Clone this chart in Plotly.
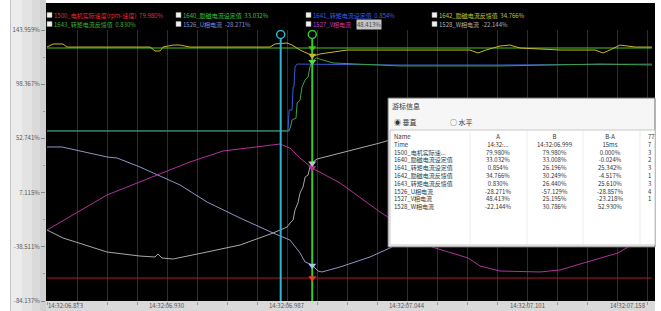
import numpy as np
import plotly.graph_objects as go

# ---------------- data (time in ms after 14:32:06.000, value in axis %) ----------------
t_1500 = [873.0, 1160.4]
v_1500 = [-64.8, -64.8]

t_1640 = [873.0, 1160.4]
v_1640 = [128.8, 128.8]

t_1642 = [873.0, 875.9, 880.6, 882.5, 922.0, 924.3, 926.7, 928.1, 932.9, 936.2, 940.9, 978.9, 981.3,
          987.0, 989.4, 993.2, 999.4, 1002.7, 1015.5, 1040.7, 1073.9, 1077.7, 1081.5, 1088.2, 1092.9,
          1097.7, 1116.7, 1133.3, 1137.1, 1140.4, 1145.2, 1152.3, 1160.4]
v_1642 = [129.6, 132.2, 132.2, 129.6, 129.6, 126.3, 126.3, 129.6, 131.3, 131.3, 129.6, 129.6, 132.2,
          133.0, 131.3, 127.1, 122.1, 123.8, 127.1, 127.1, 127.1, 124.6, 127.1, 130.5, 131.3,
          128.8, 127.1, 127.1, 124.6, 127.1, 131.3, 129.6, 129.6]

t_1641 = [873.0, 987.0, 987.5, 988.0, 989.4, 989.9, 990.3, 990.8, 991.8, 1040.7, 1088.2, 1160.4]
v_1641 = [59.0, 59.0, 59.0, 76.6, 76.6, 96.0, 96.0, 112.8, 115.3, 114.5, 114.5, 115.3]

t_1643 = [873.0, 988.0, 988.9, 989.4, 991.3, 991.8, 993.2, 994.1, 995.6, 997.0, 997.9, 998.9, 1000.8,
          1008.9, 1040.7, 1088.2, 1135.7, 1160.4]
v_1643 = [59.0, 59.0, 64.0, 68.2, 69.9, 82.5, 85.0, 96.0, 101.9, 104.4, 112.8, 117.0, 120.4,
          116.2, 113.7, 113.7, 115.3, 114.5]

t_u = [873.0, 880.1, 901.5, 906.3, 917.2, 925.3, 936.2, 949.0, 964.7, 980.4, 988.4, 993.2, 995.6, 997.9,
       999.4, 1001.7, 1003.6, 1012.2, 1026.4, 1035.9, 1050.2, 1069.2, 1088.2, 1107.2, 1126.2, 1140.4,
       1152.3, 1160.4]
v_u = [45.5, 45.5, 37.1, 36.2, 28.6, 21.9, 13.5, -0.8, -14.3, -26.9, -32.8, -43.7, -51.3, -53.0,
       -54.7, -58.9, -59.7, -55.5, -47.1, -39.5, -26.1, -9.2, 9.3, 27.8, 41.3, 44.6, 41.3, 36.2]

t_w = [873.0, 880.6, 901.5, 917.2, 924.3, 925.7, 927.6, 932.9, 949.0, 964.7, 980.4, 987.0, 988.9, 989.9,
       990.8, 992.2, 993.2, 994.6, 995.6, 997.0, 997.9, 999.4, 1001.3, 1014.6, 1031.2, 1035.9, 1054.9,
       1073.9, 1097.7, 1121.5, 1145.2, 1160.4]
v_w = [-24.4, -31.1, -42.9, -46.3, -47.1, -44.6, -47.9, -48.8, -42.9, -37.0, -26.9, -21.9, -17.6, -16.0,
       -7.5, -1.6, 6.8, 11.8, 20.2, 21.9, 28.6, 32.9, 35.4, 41.3, 48.9, 51.4, 58.1,
       51.4, 30.3, 5.1, -20.2, -32.8]

t_v = [873.0, 885.4, 901.5, 925.3, 940.9, 956.6, 972.8, 983.7, 988.4, 993.2, 998.9, 1012.2, 1031.2,
       1040.7, 1055.9, 1073.0, 1078.7, 1088.2, 1107.2, 1116.7, 1126.2, 1135.7, 1144.2, 1151.4, 1160.4]
v_v = [-24.4, -11.7, 5.1, 21.9, 32.9, 42.1, 45.5, 48.0, 44.6, 36.2, 27.8, 15.2, -9.2,
       -20.2, -38.7, -47.9, -54.7, -58.9, -59.7, -58.0, -53.0, -47.9, -43.7, -36.2, -26.1]

Y_TICK_VALS = [143.959, 98.367, 52.741, 7.115, -38.511, -84.137]
Y_TICK_TEXT = ["143.959%", "98.367%", "52.741%", "7.115%", "-38.511%", "-84.137%"]
X_LABEL_MS = [873, 930, 987, 1044, 1101, 1158]
X_LABEL_TEXT = ["14:32:06.873", "14:32:06.930", "14:32:06.987", "14:32:07.044", "14:32:07.101", "14:32:07.158"]
CURSOR_A = 984.0
CURSOR_B = 999.0

LEG_NAMES = ["1500_电机实际速度(rpm-速度)", "1640_励磁电流设定值", "1641_转矩电流设定值", "1642_励磁电流反馈值",
             "1643_转矩电流反馈值", "1526_U相电流", "1527_V相电流", "1528_W相电流"]
LEG_VALUES = ["79.980%", "33.032%", "0.854%", "34.766%", "0.830%", "-28.271%", "48.413%", "-22.144%"]

TBL_NAMES = ["Time", "1500_电机实际速...", "1640_励磁电流设定值", "1641_转矩电流设定值", "1642_励磁电流反馈值",
             "1643_转矩电流反馈值", "1526_U相电流", "1527_V相电流", "1528_W相电流"]
TBL_A = ["14:32:...", "79.980%", "33.032%", "0.854%", "34.766%", "0.830%", "-28.271%", "48.413%", "-22.144%"]
TBL_B = ["14:32:06.999", "79.980%", "33.008%", "26.196%", "30.249%", "26.440%", "-57.129%", "25.195%", "30.786%"]
TBL_BA = ["15ms", "0.000%", "-0.024%", "25.342%", "-4.517%", "25.610%", "-28.857%", "-23.218%", "52.930%"]
TBL_E = ["77", "7", "3", "2", "3", "1", "3", "4", "1"]

# ---------------- styles ----------------
C_1500 = "#b2182b"
C_1640 = "#4cc21f"
C_1641 = "#3a5bd6"
C_1642 = "#c9b92a"
C_1643 = "#3f9f3f"
C_U = "#8e95c6"
C_V = "#b0329c"
C_W = "#a8a8a8"
C_A = "#2fb5d2"
C_B = "#36c936"
LEG_COLORS = ["#e0303c", "#3fc63f", "#3f5fe0", "#d2c232", "#3fb03f", "#8590c8", "#c838c0", "#b0b0b0"]
FONT = "Noto Sans CJK SC, Noto Sans, sans-serif"

W, H = 661, 311
PL, PR, PT, PB = 46, 652, 30, 301
Y_MIN, Y_MAX = Y_TICK_VALS[-1], Y_TICK_VALS[0]
MS_PER_PX = 57.0 / 120.0
X_MIN = X_LABEL_MS[0] - 1 * MS_PER_PX
X_MAX = X_MIN + (PR - PL) * MS_PER_PX


def px(x):
    return (x - PL) / (PR - PL)


def py(y):
    return (PB - y) / (PB - PT)


fig = go.Figure()

series = [
    (t_1500, v_1500, C_1500),
    (t_1641, v_1641, C_1641),
    (t_1643, v_1643, C_1643),
    (t_1640, v_1640, C_1640),
    (t_1642, v_1642, C_1642),
    (t_u, v_u, C_U),
    (t_w, v_w, C_W),
    (t_v, v_v, C_V),
]
for t, v, c in series:
    fig.add_trace(go.Scatter(x=t, y=v, mode="lines", line=dict(color=c, width=1),
                             hoverinfo="skip", showlegend=False))

# cursors
span = Y_MAX - Y_MIN
top_line = Y_MAX - 8.0 / (PB - PT) * span
head = Y_MAX - 4.5 / (PB - PT) * span
for cx, cc in [(CURSOR_A, C_A), (CURSOR_B, C_B)]:
    fig.add_trace(go.Scatter(x=[cx, cx], y=[Y_MIN, top_line], mode="lines",
                             line=dict(color=cc, width=2), hoverinfo="skip", showlegend=False))
    fig.add_trace(go.Scatter(x=[cx], y=[head], mode="markers",
                             marker=dict(symbol="circle-open", size=8, color=cc, line=dict(width=1.5)),
                             hoverinfo="skip", showlegend=False))

# value markers at cursor B
for t, v, c in [(t_1640, v_1640, C_1640), (t_1642, v_1642, C_1642), (t_1643, v_1643, "#55d455"),
                (t_v, v_v, C_V), (t_w, v_w, "#b8c8b8"), (t_u, v_u, "#a8c4e8"), (t_1500, v_1500, "#e04020")]:
    yb = float(np.interp(CURSOR_B, t, v))
    fig.add_trace(go.Scatter(x=[CURSOR_B], y=[yb], mode="markers",
                             marker=dict(symbol="triangle-down", size=7, color=c),
                             hoverinfo="skip", showlegend=False))

shapes = []
# background panels
shapes.append(dict(type="rect", xref="paper", yref="paper", x0=px(45), x1=px(655), y0=py(301), y1=py(3),
                   fillcolor="black", line=dict(width=0), layer="below"))
for a, b, col in [(10, 11, "#c4c4c4"), (11, 22, "#ececec"), (22, 32, "#e3e3e3"), (32, 40, "#dadada"),
                  (40, 46, "#d0d0d0")]:
    shapes.append(dict(type="rect", xref="paper", yref="paper", x0=px(a), x1=px(b), y0=py(311), y1=py(0),
                       fillcolor=col, line=dict(width=0), layer="below"))
shapes.append(dict(type="rect", xref="paper", yref="paper", x0=px(46), x1=px(655), y0=py(311), y1=py(301),
                   fillcolor="#d9d9d9", line=dict(width=0), layer="below"))

# legend check boxes
leg_pos = [(47, 15), (176, 15), (306, 15), (432, 15), (47, 24), (176, 24), (306, 24), (432, 24)]
for (lx, ly) in leg_pos:
    shapes.append(dict(type="rect", xref="paper", yref="paper", x0=px(lx), x1=px(lx + 5),
                       y0=py(ly + 2.5), y1=py(ly - 2.5), fillcolor="#f0f0f0",
                       line=dict(color="#999", width=0.5), layer="above"))

# dialog
shapes.append(dict(type="rect", xref="paper", yref="paper", x0=px(388), x1=px(655), y0=py(247), y1=py(98),
                   fillcolor="#f6f6f6", line=dict(color="#6a6a6a", width=1), layer="above"))
shapes.append(dict(type="rect", xref="paper", yref="paper", x0=px(390), x1=px(655), y0=py(245), y1=py(130),
                   fillcolor="#ffffff", line=dict(color="#c8c8c8", width=1), layer="above"))
for sx in [470, 527, 583, 640]:
    shapes.append(dict(type="line", xref="paper", yref="paper", x0=px(sx), x1=px(sx), y0=py(244), y1=py(131),
                       line=dict(color="#ededed", width=1), layer="above"))

annotations = []
# x tick labels
for i, (ms, txt) in enumerate(zip(X_LABEL_MS, X_LABEL_TEXT)):
    anchor = "left" if i == 0 else ("right" if i == len(X_LABEL_MS) - 1 else "center")
    annotations.append(dict(x=ms, y=py(305.5), xref="x", yref="paper", text=txt, showarrow=False,
                            xanchor=anchor, yanchor="middle", borderpad=0,
                            font=dict(family=FONT, size=6, color="#555")))

# legend texts
LF = 6
for i, ((lx, ly), name, val, col) in enumerate(zip(leg_pos, LEG_NAMES, LEG_VALUES, LEG_COLORS)):
    if i == 6:
        annotations.append(dict(x=px(lx + 6), y=py(ly), xref="paper", yref="paper", text=name,
                                showarrow=False, xanchor="left", yanchor="middle", borderpad=0,
                                font=dict(family=FONT, size=LF, color=col)))
        annotations.append(dict(x=px(lx + 50), y=py(ly), xref="paper", yref="paper", text=val,
                                showarrow=False, xanchor="left", yanchor="middle", bgcolor="#c4c4c4",
                                borderpad=0, font=dict(family=FONT, size=LF, color="#444")))
    else:
        annotations.append(dict(x=px(lx + 6), y=py(ly), xref="paper", yref="paper",
                                text=name + "  " + val, showarrow=False, xanchor="left", yanchor="middle",
                                borderpad=0, font=dict(family=FONT, size=LF, color=col)))

# dialog texts
DF = dict(family=FONT, size=7, color="#333")
annotations.append(dict(x=px(391), y=py(106), xref="paper", yref="paper", text="游标信息", showarrow=False,
                        xanchor="left", yanchor="middle", borderpad=0, font=DF))
annotations.append(dict(x=px(393), y=py(122), xref="paper", yref="paper", text="◉ 垂直", showarrow=False,
                        xanchor="left", yanchor="middle", borderpad=0, font=DF))
annotations.append(dict(x=px(449), y=py(122), xref="paper", yref="paper", text="○ 水平", showarrow=False,
                        xanchor="left", yanchor="middle", borderpad=0, font=DF))

TF = dict(family=FONT, size=6, color="#333")
tbl_top = py(130.5)
columns = [
    (393, "left", ["Name"] + TBL_NAMES),
    (498, "center", ["A"] + TBL_A),
    (554, "center", ["B"] + TBL_B),
    (610, "center", ["B-A"] + TBL_BA),
    (647, "left", [""] + TBL_E),
]
for cxp, al, items in columns:
    annotations.append(dict(x=px(cxp), y=tbl_top, xref="paper", yref="paper", text="<br>".join(items),
                            showarrow=False, xanchor=al, yanchor="top", align=al, borderpad=0, font=TF))

minor_vals = [(a + b) / 2 for a, b in zip(Y_TICK_VALS[:-1], Y_TICK_VALS[1:])]

fig.update_layout(
    width=W, height=H, autosize=False,
    margin=dict(l=PL, r=W - PR, t=PT, b=H - PB, pad=0, autoexpand=False),
    paper_bgcolor="white", plot_bgcolor="black",
    showlegend=False,
    shapes=shapes, annotations=annotations,
    xaxis=dict(range=[X_MIN, X_MAX], tickmode="linear", tick0=X_LABEL_MS[0], dtick=57.0 / 4,
               showgrid=True, gridcolor="#2e2e2e", gridwidth=1, ticks="outside", ticklen=3,
               tickcolor="#999", showticklabels=False, zeroline=False, showline=False, fixedrange=True,
               automargin=False),
    yaxis=dict(range=[Y_MIN, Y_MAX], tickmode="array", tickvals=Y_TICK_VALS, ticktext=Y_TICK_TEXT,
               ticks="outside", ticklen=4, tickcolor="#888", tickfont=dict(family=FONT, size=6, color="#555"),
               showgrid=False, zeroline=False, showline=False, fixedrange=True, automargin=False,
               minor=dict(tickvals=minor_vals, ticks="outside", ticklen=2, tickcolor="#999", showgrid=False)),
)

fig.write_html("out.html", config={"displayModeBar": False})

# remove the browser's default page margin so the figure sits at the window's top-left corner
with open("out.html", "r", encoding="utf-8") as f:
    html = f.read()
html = html.replace("<head>", "<head><style>html,body{margin:0;padding:0;overflow:hidden;}</style>", 1)
with open("out.html", "w", encoding="utf-8") as f:
    f.write(html)
